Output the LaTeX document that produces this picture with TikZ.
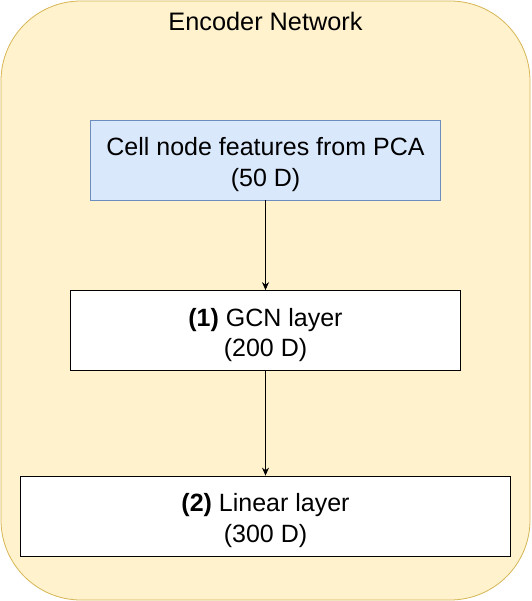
\documentclass[tikz,border=0pt]{standalone}
\usepackage{fontspec}
\setmainfont{Liberation Sans}
\usetikzlibrary{arrows.meta}
\definecolor{outerfill}{HTML}{FFF2CC}
\definecolor{outerdraw}{HTML}{D6B656}
\definecolor{bluefill}{HTML}{DAE8FC}
\definecolor{bluedraw}{HTML}{6C8EBF}
\tikzset{
  layerbox/.style={draw=black, fill=white, line width=0.8pt, minimum height=80pt, inner sep=0pt},
  inputbox/.style={layerbox, draw=bluedraw, fill=bluefill},
  boxtext/.style={align=center, inner sep=0pt, font=\fontsize{25}{30.7}\selectfont},
  flow/.style={-{Stealth[length=8pt,width=7pt]}, line width=0.8pt, draw=black}
}
\begin{document}
\begin{tikzpicture}[x=1pt,y=-1pt]
\useasboundingbox (0,0) rectangle (531,601);
\draw[fill=outerfill, draw=outerdraw, line width=0.8pt, rounded corners=80pt] (1,1) rectangle (530,600);
\node[anchor=base, font=\fontsize{25.3}{30.7}\selectfont, inner sep=0pt] (title) at (265.5,30.7) {Encoder Network};
\node[inputbox, minimum width=350pt] (pca) at (265.5,160) {};
\node[boxtext] (pcatext) at ([yshift=-4.5pt]pca.center) {Cell node features from PCA\\(50 D)};
\node[layerbox, minimum width=390pt] (gcn) at (265.5,330.5) {};
\node[boxtext] (gcntext) at ([yshift=-4.5pt]gcn.center) {\textbf{(1)} GCN layer\\(200 D)};
\node[layerbox, minimum width=490pt] (lin) at (265.5,516) {};
\node[boxtext] (lintext) at ([yshift=-4.5pt]lin.center) {\textbf{(2)} Linear layer\\(300 D)};
\draw[flow] (pca) -- (gcn);
\draw[flow] (gcn) -- (lin);
\end{tikzpicture}
\end{document}
